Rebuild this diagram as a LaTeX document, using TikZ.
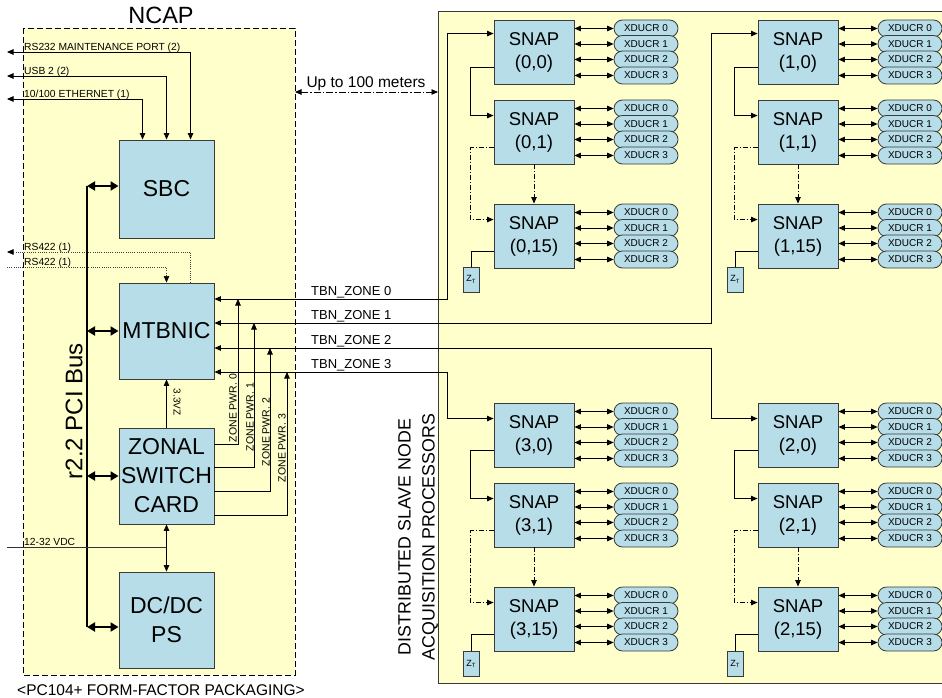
\documentclass[tikz,border=0pt]{standalone}
\usepackage{fontspec}
\setmainfont{Liberation Sans}
\usetikzlibrary{arrows.meta,shapes.misc,calc}
\definecolor{snapblue}{HTML}{B7DDE8}
\definecolor{paleyellow}{HTML}{FFFFCC}
\definecolor{edgegray}{HTML}{3A3A3A}
\newcommand{\fsz}[2]{\fontsize{#1}{#2}\selectfont}
\tikzset{
  box/.style={draw=edgegray, fill=snapblue, line width=0.9pt, inner sep=0pt, align=center},
  snapbox/.style={box, minimum width=80pt, minimum height=64pt, font=\fsz{18.5}{23}},
  bigbox/.style={box, minimum width=95pt, minimum height=96pt, font=\fsz{23}{29}},
  xd/.style={draw=edgegray, fill=snapblue, line width=0.8pt, rounded rectangle, minimum width=64pt, minimum height=17pt, inner sep=0pt, font=\fsz{10}{10}},
  ztbox/.style={box, minimum width=16pt, minimum height=25pt, font=\fsz{9}{9}},
  conn/.style={line width=0.9pt},
  tip/.style={-{Triangle[length=6.5pt,width=5.5pt]}},
  dtip/.style={{Triangle[length=6.5pt,width=5.5pt]}-{Triangle[length=6.5pt,width=5.5pt]}},
  bus/.style={line width=2.6pt},
  btip/.style={{Triangle[length=8pt,width=9pt]}-{Triangle[length=8pt,width=9pt]}},
  dashdot/.style={dash pattern=on 5pt off 2pt on 1pt off 2pt},
  rsline/.style={line width=0.6pt, dash pattern=on 1pt off 1.2pt, draw=black!75},
  lbl/.style={font=\fsz{10.3}{11}, inner sep=0pt, anchor=base west},
  zlbl/.style={font=\fsz{10.5}{11}, inner sep=0pt, rotate=90},
  tbn/.style={font=\fsz{13}{14}, inner sep=0pt, anchor=base west},
}
\begin{document}
\begin{tikzpicture}[x=1pt,y=-1pt]
\useasboundingbox (0,0) rectangle (942,698);
% background areas
\path[fill=paleyellow] (438,12) rectangle (942,683);
\draw[draw=edgegray, line width=1pt] (942,12) -- (438,12) -- (438,683) -- (942,683);
\draw[fill=paleyellow, line width=0.9pt, dash pattern=on 6pt off 3pt] (23,28) rectangle (295,675);
\node[font=\fsz{23.5}{25}] (ncap) at (161,15) {NCAP};
\node[font=\fsz{15.5}{17}, anchor=west, inner sep=0pt] (pkg) at (17,690) {<PC104+ FORM-FACTOR PACKAGING>};

% NCAP boxes
\node[bigbox, minimum height=98pt] (sbc) at (166.5,189) {SBC};
\node[bigbox] (mtb) at (166.5,331) {MTBNIC};
\node[bigbox] (zsc) at (166.5,476) {ZONAL\\SWITCH\\CARD};
\node[bigbox] (dcdc) at (166.5,620) {DC/DC\\PS};

% ports
\coordinate (p1) at (7,52);
\coordinate (p2) at (7,76);
\coordinate (p3) at (7,99);
\draw[conn,dtip] (p1) -| ($(sbc.north west)+(72,0)$);
\draw[conn,dtip] (p2) -| ($(sbc.north west)+(48,0)$);
\draw[conn,dtip] (p3) -| ($(sbc.north west)+(24,0)$);
\node[lbl] (l1) at (24,50.5) {RS232 MAINTENANCE PORT (2)};
\node[lbl] (l2) at (24,74.5) {USB 2 (2)};
\node[lbl] (l3) at (24,97.5) {10/100 ETHERNET (1)};

% RS422
\coordinate (r1) at (7,252);
\coordinate (r2) at (7,267);
\draw[rsline,-{Triangle[length=6.5pt,width=5.5pt,black]}] ($(mtb.north west)+(72,0)$) |- (r1);
\draw[rsline,-{Triangle[length=6.5pt,width=5.5pt,black]}] (r2) -| (mtb.north);
\node[lbl] (l4) at (24,250.5) {RS422 (1)};
\node[lbl] (l5) at (24,265.5) {RS422 (1)};

% PCI bus
\coordinate (bt) at (87,186);
\coordinate (bb) at (87,627);
\draw[bus] (bt) -- (bb);
\draw[bus,btip] (bt) -- (bt -| sbc.west);
\draw[bus,btip] (mtb.west -| bt) -- (mtb.west);
\draw[bus,btip] (zsc.west -| bt) -- (zsc.west);
\draw[bus,btip] (bb) -- (bb -| dcdc.west);
\node[rotate=90, font=\fsz{24}{26}] (pci) at (74,411) {r2.2 PCI Bus};

% power
\draw[conn,tip] (zsc.north) -- (mtb.south);
\node[font=\fsz{10}{11}, inner sep=0pt, rotate=-90] (v33) at (177,402) {3.3VZ};
\coordinate (vdc) at (7,547);
\draw[line width=0.8pt, draw=black!80] (vdc) -- (vdc -| zsc.south);
\draw[conn,dtip] (zsc.south) -- (dcdc.north);
\node[lbl] (lv) at (24,545) {12-32 VDC};

% SNAP nodes with transducers
\foreach \n/\cx/\ty/\lab in {
  s00/534/20/{(0,0)}, s01/534/100/{(0,1)}, s015/534/204/{(0,15)},
  s10/798/20/{(1,0)}, s11/798/100/{(1,1)}, s115/798/204/{(1,15)},
  s30/534/403/{(3,0)}, s31/534/483/{(3,1)}, s315/534/587/{(3,15)},
  s20/798/403/{(2,0)}, s21/798/483/{(2,1)}, s215/798/587/{(2,15)}}
{
  \node[snapbox] (\n) at (\cx,\ty+32) {SNAP\\\lab};
  \foreach \k/\dy in {0/8.5,1/24,2/39.5,3/55.5}{
    \node[xd] (\n x\k) at (\cx+112,\ty+\dy) {\raisebox{-1.5pt}{XDUCR \k}};
    \draw[conn,dtip] (\n.east |- \n x\k) -- (\n x\k.west);
  }
}

% chains
\foreach \a/\b/\c/\zx/\zy in {s00/s01/s015/471/279.5, s10/s11/s115/735/279.5, s30/s31/s315/471/664, s20/s21/s215/735/664}{
  \node[ztbox] (\c zt) at (\zx,\zy) {Z\raisebox{-1.5pt}{\fsz{6}{6}T}};
  \draw[conn,tip] ($(\a.north west)+(0,48)$) -- ++(-23,0) |- ($(\b.north west)+(0,16)$);
  \draw[conn,dashdot,tip] ($(\b.north west)+(0,48)$) -- ++(-23,0) |- ($(\c.north west)+(0,16)$);
  \draw[conn,dashdot,tip] (\b.south) -- (\c.north);
  \draw[conn] ($(\c.north west)+(0,48)$) -| (\c zt.north);
}

% TBN zones
\coordinate (t0) at (447,299);
\coordinate (t1) at (711,323);
\coordinate (t2) at (711,348);
\coordinate (t3) at (447,372);
\draw[conn,dtip] (mtb.east |- t0) -- (t0) |- ($(s00.north west)+(0,14)$);
\draw[conn,dtip] (mtb.east |- t1) -- (t1) |- ($(s10.north west)+(0,14)$);
\draw[conn,dtip] (mtb.east |- t2) -- (t2) |- ($(s20.north west)+(0,16)$);
\draw[conn,dtip] (mtb.east |- t3) -- (t3) |- ($(s30.north west)+(0,16)$);
\node[tbn] (tb0) at (311,295) {TBN\_ZONE 0};
\node[tbn] (tb1) at (311,319) {TBN\_ZONE 1};
\node[tbn] (tb2) at (311,344) {TBN\_ZONE 2};
\node[tbn] (tb3) at (311,368) {TBN\_ZONE 3};

% zone power
\coordinate (z0) at (238,444);
\coordinate (z1) at (254,467);
\coordinate (z2) at (270,491);
\coordinate (z3) at (287,515);
\draw[conn,tip] (zsc.east |- z0) -- (z0) -- (z0 |- t0);
\draw[conn,tip] (zsc.east |- z1) -- (z1) -- (z1 |- t1);
\draw[conn,tip] (zsc.east |- z2) -- (z2) -- (z2 |- t2);
\draw[conn,tip] (zsc.east |- z3) -- (z3) -- (z3 |- t3);
\node[zlbl] (zp0) at (233,408) {ZONE PWR. 0};
\node[zlbl] (zp1) at (250,417) {ZONE PWR. 1};
\node[zlbl] (zp2) at (266,432) {ZONE PWR. 2};
\node[zlbl] (zp3) at (282,448) {ZONE PWR. 3};

% range
\coordinate (u1) at (295,92);
\coordinate (u2) at (438,92);
\draw[conn,dtip,dash pattern=on 7pt off 2pt on 1.5pt off 2pt] (u1) -- (u2);
\node[font=\fsz{15.5}{16}, inner sep=0pt, anchor=base] (range) at (366,88) {Up to 100 meters};

\node[rotate=90, align=center, font=\fsz{17.8}{24}] (dsn) at (418,537) {DISTRIBUTED SLAVE NODE\\ACQUISITION PROCESSORS};
\end{tikzpicture}
\end{document}
